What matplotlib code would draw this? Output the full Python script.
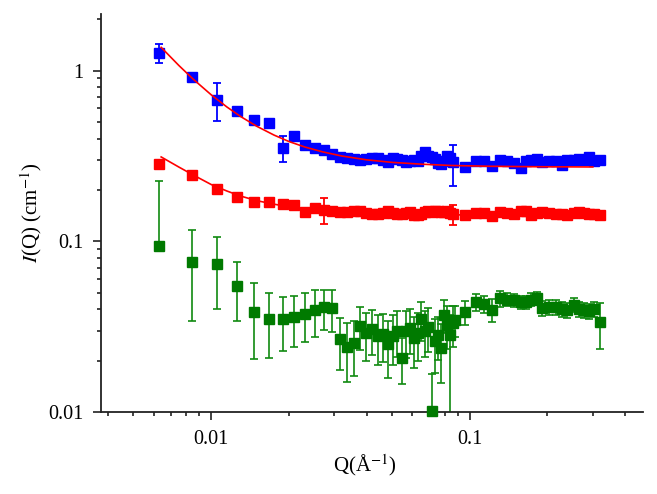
import numpy as np
import matplotlib
matplotlib.use("Agg")
import matplotlib.pyplot as plt
from matplotlib.ticker import LogLocator, NullFormatter

plt.rcParams['font.family'] = ['Liberation Serif', 'DejaVu Serif']
plt.rcParams['mathtext.fontset'] = 'stix'

nan = np.nan

# scattering vector, A^-1 (two detector settings)
q = [0.0063, 0.0084, 0.0105, 0.0126, 0.0147, 0.0168, 0.0189, 0.0210, 0.0231, 0.0252,
     0.0273, 0.0294, 0.0315, 0.0336, 0.0357, 0.0378, 0.0399, 0.0420, 0.0441, 0.0462,
     0.0483, 0.0504, 0.0525, 0.0546, 0.0567, 0.0588, 0.0609, 0.0630, 0.0651, 0.0672,
     0.0693, 0.0714, 0.0735, 0.0756, 0.0777, 0.0798, 0.0819, 0.0840, 0.0861,
     0.0880, 0.0964, 0.1055, 0.1138, 0.1223, 0.1317, 0.1399, 0.1486, 0.1575, 0.1648,
     0.1725, 0.1830, 0.1914, 0.2030, 0.2156, 0.2274, 0.2393, 0.2537, 0.2654, 0.2778,
     0.2908, 0.3044, 0.3186]

blue = [1.27, 0.918, 0.676, 0.580, 0.516, 0.494, 0.352, 0.416, 0.368, 0.352,
        0.341, 0.326, 0.312, 0.308, 0.303, 0.300, 0.303, 0.308, 0.308, 0.300,
        0.290, 0.308, 0.303, 0.300, 0.290, 0.294, 0.300, 0.294, 0.315, 0.332,
        0.318, 0.312, 0.303, 0.288, 0.285, 0.294, 0.316, 0.308, 0.290,
        nan, 0.272, 0.294, 0.294, 0.275, 0.298, 0.294, 0.288, 0.270, 0.294,
        0.298, 0.303, 0.290, 0.294, 0.294, 0.281, 0.301, 0.298, 0.303, 0.301,
        0.312, 0.294, 0.298]
blue_err = [0.16, 0, 0.17, 0, 0, 0, 0.06, 0, 0, 0,
            0, 0, 0, 0, 0, 0, 0, 0, 0, 0,
            0, 0, 0, 0, 0, 0, 0, 0, 0, 0,
            0, 0, 0, 0, 0, 0, 0, 0, 0.078,
            0, 0, 0, 0, 0, 0, 0, 0, 0, 0,
            0, 0, 0, 0, 0, 0, 0, 0, 0, 0,
            0, 0, 0]

red = [0.284, 0.243, 0.202, 0.181, 0.170, 0.170, 0.166, 0.163, 0.148, 0.156,
       0.153, 0.150, 0.148, 0.149, 0.150, 0.151, 0.146, 0.144, 0.145, 0.146,
       0.151, 0.147, 0.145, 0.144, 0.146, 0.148, 0.143, 0.142, 0.144, 0.148,
       0.150, 0.149, 0.151, 0.150, 0.148, 0.149, 0.151, 0.146, 0.144,
       nan, 0.143, 0.146, 0.146, 0.141, 0.148, 0.146, 0.144, 0.150, 0.151,
       0.143, 0.146, 0.148, 0.147, 0.145, 0.144, 0.143, 0.147, 0.148, 0.146,
       0.144, 0.145, 0.143]
red_err = [0, 0, 0, 0.012, 0, 0, 0, 0, 0, 0,
           0.026, 0, 0, 0, 0, 0, 0, 0, 0, 0,
           0, 0, 0, 0, 0, 0, 0, 0, 0, 0,
           0, 0, 0, 0, 0, 0, 0, 0, 0.02,
           0, 0, 0, 0, 0, 0, 0, 0, 0, 0,
           0, 0, 0, 0, 0, 0, 0, 0, 0, 0,
           0, 0, 0]

green = [0.094, 0.0755, 0.0735, 0.0548, 0.0386, 0.0351, 0.0350, 0.0360, 0.0377, 0.0396,
         0.0411, 0.0405, 0.0266, 0.0240, 0.0253, 0.0320, 0.0290, 0.0305, 0.0278, 0.0287,
         0.0249, 0.0278, 0.0300, 0.0208, 0.0298, 0.0310, 0.0272, 0.0290, 0.0350, 0.0300,
         0.0316, 0.0102, 0.0259, 0.0282, 0.0237, 0.0371, 0.0325, 0.0282, 0.0330,
         0.0345, 0.0385, 0.0442, 0.0430, 0.0397, 0.0464, 0.0455, 0.0450, 0.0440, 0.0440,
         0.0455, 0.0464, 0.0405, 0.0410, 0.0412, 0.0400, 0.0395, 0.0425, 0.0400, 0.0395,
         0.0390, 0.0400, 0.0335]
green_lo = [0.0, 0.0416, 0.0333, 0.0206, 0.0182, 0.0144, 0.0121, 0.0119, 0.012, 0.012,
            0.011, 0.011, 0.009, 0.009, 0.009, 0.009, 0.009, 0.009, 0.009, 0.009,
            0.009, 0.009, 0.009, 0.0063, 0.009, 0.009, 0.009, 0.009, 0.009, 0.009,
            0.009, 0.009, 0.009, 0.008, 0.009, 0.008, 0.009, 0.025, 0.009,
            0.007, 0.006, 0.005, 0.005, 0.006, 0.005, 0.004, 0.004, 0.004, 0.004,
            0.004, 0.004, 0.004, 0.004, 0.004, 0.004, 0.004, 0.004, 0.004, 0.004,
            0.004, 0.004, 0.010]
green_hi = [0.132, 0.0415, 0.0325, 0.0207, 0.0182, 0.0146, 0.012, 0.012, 0.012, 0.012,
            0.011, 0.011, 0.009, 0.009, 0.009, 0.009, 0.009, 0.009, 0.009, 0.009,
            0.009, 0.009, 0.009, 0.0063, 0.009, 0.009, 0.009, 0.009, 0.009, 0.009,
            0.009, 0.0066, 0.009, 0.008, 0.009, 0.008, 0.009, 0.009, 0.009,
            0.007, 0.006, 0.005, 0.005, 0.006, 0.005, 0.004, 0.004, 0.004, 0.004,
            0.004, 0.004, 0.004, 0.004, 0.004, 0.004, 0.004, 0.004, 0.004, 0.004,
            0.004, 0.004, 0.010]

# fitted curves
fit_q = [0.0064, 0.0075, 0.0085, 0.0100, 0.0115, 0.0130, 0.0150, 0.0175, 0.0200, 0.0230,
         0.0270, 0.0320, 0.0400, 0.0500, 0.0650, 0.0850, 0.1200, 0.1800, 0.3000]
fit_blue = [1.368, 1.070, 0.893, 0.721, 0.612, 0.538, 0.472, 0.419, 0.384, 0.357,
            0.334, 0.316, 0.300, 0.290, 0.283, 0.278, 0.275, 0.2734, 0.2725]
fit_red = [0.312, 0.272, 0.245, 0.215, 0.197, 0.184, 0.173, 0.165, 0.159, 0.155,
           0.152, 0.149, 0.147, 0.145, 0.144, 0.143, 0.142, 0.1415, 0.141]

fig = plt.figure(figsize=(6.57, 4.94), dpi=100)
ax = fig.add_axes([0.154, 0.166, 0.825, 0.806])

ms = 7
for y, err, col in [(blue, blue_err, '#0000ff'), (red, red_err, '#ff0000')]:
    ax.errorbar(q, y, yerr=err, fmt='none', ecolor=col, elinewidth=1.3,
                capsize=3, capthick=1.3, zorder=2)
    ax.plot(q, y, 's', color=col, ms=ms, zorder=3)

ax.errorbar(q, green, yerr=[green_lo, green_hi], fmt='none', ecolor='#108a10',
            elinewidth=1.2, capsize=3, capthick=1.2, zorder=2)
ax.plot(q, green, 's', color='#007a00', ms=ms, zorder=3, clip_on=False)

ax.plot(fit_q, fit_blue, '-', color='#ff0000', lw=1.2, zorder=4)
ax.plot(fit_q, fit_red, '-', color='#ff0000', lw=1.2, zorder=4)

ax.set_xscale('log')
ax.set_yscale('log')
ax.set_xlim(0.00375, 0.47)
ax.set_ylim(0.01, 2.15)

ax.set_xticks([0.01, 0.1])
ax.set_xticklabels(['0.01', '0.1'])
ax.set_yticks([0.01, 0.1, 1])
ax.set_yticklabels(['0.01', '0.1', '1'])
for axis in (ax.xaxis, ax.yaxis):
    axis.set_minor_locator(LogLocator(base=10, subs=np.arange(2, 10)))
    axis.set_minor_formatter(NullFormatter())

ax.spines['top'].set_visible(False)
ax.spines['right'].set_visible(False)
for s in ('left', 'bottom'):
    ax.spines[s].set_linewidth(1.3)
    ax.spines[s].set_color('#222222')
ax.tick_params(which='major', direction='out', length=6, width=1.2, color='#222222',
               labelsize=14.5)
ax.tick_params(axis='x', which='major', pad=7)
ax.tick_params(axis='y', which='major', pad=7)
ax.tick_params(which='minor', direction='out', length=3, width=1.2, color='#222222')

ax.set_xlabel('Q(Å$^{-1}$)', fontsize=15)
ax.set_ylabel('$I$(Q) (cm$^{-1}$)', fontsize=15)
ax.xaxis.set_label_coords(0.487, -0.1)
ax.yaxis.set_label_coords(-0.105, 0.5)

fig.savefig('out.png', dpi=100)
